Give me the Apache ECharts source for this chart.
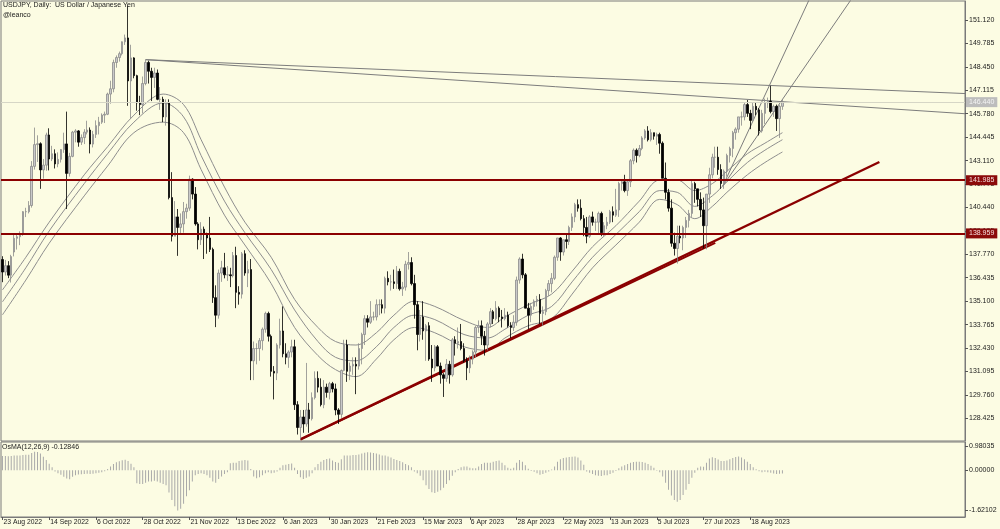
<!DOCTYPE html>
<html><head><meta charset="utf-8">
<script src="https://cdn.jsdelivr.net/npm/echarts@6/dist/echarts.min.js"></script>
<style>html,body{margin:0;padding:0;background:#fcfce3}#c{width:1000px;height:529px}</style>
</head><body><div id="c"></div>
<script>
// ---------- data ----------
const tickDates = ['23 Aug 2022','14 Sep 2022','6 Oct 2022','28 Oct 2022','21 Nov 2022','13 Dec 2022','6 Jan 2023','30 Jan 2023','21 Feb 2023','15 Mar 2023','6 Apr 2023','28 Apr 2023','22 May 2023','13 Jun 2023','5 Jul 2023','27 Jul 2023','18 Aug 2023'];
const priceTicks = [128.425,129.760,131.095,132.430,133.765,135.100,136.435,137.770,139.105,140.440,141.775,143.110,144.445,145.780,147.115,148.450,149.785,151.120];
const osmaTicks = [0.98035, 0, -1.62102];
const skipDays = ['2022-12-26','2023-01-02'];
// [open, high, low, close]
const candles = [
[137.47,137.66,136.18,136.76],[136.76,137.45,136.56,137.12],[137.12,137.38,136.41,136.58],[136.58,137.74,136.16,137.64],
[137.90,138.90,137.65,138.68],[138.68,138.98,138.04,138.77],[138.77,139.08,138.29,138.96],[138.96,140.23,138.82,140.20],
[140.20,140.42,139.89,140.20],[140.20,140.80,140.10,140.55],[140.55,143.08,140.43,142.78],[142.78,144.99,142.60,144.02],
[144.02,144.55,143.03,144.07],[144.07,144.15,141.50,142.58],[142.58,143.20,142.08,142.85],[142.85,144.70,142.53,144.57],
[144.57,144.95,142.55,143.20],[143.20,143.95,143.08,143.50],[143.50,143.75,142.66,142.92],[142.92,143.58,142.73,143.18],
[143.18,143.77,143.00,143.74],[143.74,144.70,143.55,144.06],[144.06,145.90,140.35,142.38],[142.38,143.55,142.20,143.35],
[143.35,144.80,143.30,144.73],[144.73,144.90,144.15,144.80],[144.80,144.85,143.90,144.16],[144.16,144.60,144.00,144.42],
[144.42,144.90,144.05,144.73],[144.73,145.38,144.60,144.85],[144.85,145.00,143.52,144.05],[144.05,144.80,143.86,144.60],
[144.60,145.40,144.40,145.10],[145.10,145.60,144.60,145.30],[145.30,145.80,145.20,145.70],[145.70,145.90,145.25,145.75],
[145.75,146.98,145.70,146.90],[146.90,147.66,146.35,147.20],[147.20,148.86,147.00,148.70],[148.70,149.10,148.40,148.98],
[148.98,149.32,148.75,149.20],[149.20,149.90,149.10,149.88],[149.88,150.29,149.70,150.10],[150.10,151.94,146.23,147.65],
[147.65,149.71,145.50,148.96],[148.96,149.00,147.80,147.95],[147.95,148.00,145.95,146.40],[146.40,146.80,145.70,146.30],
[146.30,147.90,145.80,147.50],[147.50,148.86,147.40,148.70],[148.70,148.80,147.50,148.20],[148.20,148.40,146.50,147.85],
[147.85,148.40,147.25,148.10],[148.10,148.30,146.55,146.60],[146.60,147.30,146.00,146.60],[146.60,146.75,145.30,145.60],
[145.60,146.60,145.10,146.40],[146.40,146.60,140.90,141.00],[141.00,142.45,138.50,138.80],[138.80,140.80,138.80,139.90],
[139.90,140.35,137.68,139.30],[139.30,140.10,138.90,139.50],[139.50,140.75,139.00,140.20],[140.20,140.65,139.80,140.40],
[140.40,142.25,140.25,142.05],[142.05,142.10,140.90,141.20],[141.20,141.60,139.40,139.50],[139.50,139.60,138.05,138.60],
[138.60,139.60,138.30,139.20],[139.20,139.35,137.50,138.90],[138.90,139.00,137.80,138.70],[138.70,139.90,137.90,138.05],
[138.05,138.15,135.00,135.30],[135.30,136.00,133.62,134.30],[134.30,136.90,134.10,136.70],[136.70,137.40,136.20,137.00],
[137.00,137.85,136.40,136.60],[136.60,137.10,136.25,136.60],[136.60,137.00,135.90,136.55],[136.55,137.90,136.45,137.70],
[137.70,138.20,134.70,135.60],[135.60,135.95,134.90,135.50],[135.50,137.90,135.25,137.80],[137.80,138.00,136.55,136.70],
[136.70,137.40,135.90,136.90],[136.90,137.50,130.60,131.70],[131.70,132.80,130.60,132.40],[132.40,132.70,131.50,132.40],
[132.40,133.00,131.70,132.85],[132.85,133.60,132.30,133.50],[133.50,134.50,133.30,134.40],[134.40,134.50,132.80,133.10],
[133.10,133.20,130.80,131.10],[131.10,131.40,129.50,131.00],[131.00,132.70,130.60,132.60],[132.60,134.10,132.40,133.40],
[133.40,134.80,131.90,132.10],[132.10,132.70,131.50,131.90],[131.90,132.30,131.30,132.20],[132.20,132.90,131.90,132.50],
[132.50,132.90,128.90,129.20],[129.20,129.40,127.50,127.90],[127.90,128.90,127.22,128.50],[128.50,128.90,127.60,128.10],
[128.10,131.58,127.95,128.90],[128.90,129.30,127.60,128.40],[128.40,129.90,128.30,129.60],[129.60,131.10,129.50,130.70],
[130.70,131.10,129.90,130.20],[130.20,130.70,129.10,129.20],[129.20,130.60,129.00,130.20],[130.20,130.40,129.60,129.90],
[129.90,130.50,129.50,130.40],[130.40,130.50,129.90,130.10],[130.10,130.40,128.60,128.90],[128.90,129.00,128.10,128.65],
[128.65,131.20,128.45,131.15],[131.15,132.90,131.10,132.60],[132.60,132.90,130.50,131.10],[131.10,131.60,130.60,131.40],
[131.40,131.90,130.90,131.50],[131.50,131.90,129.80,131.40],[131.40,132.70,131.20,132.40],[132.40,133.30,131.50,133.20],
[133.20,134.30,132.60,134.10],[134.10,134.30,133.60,133.90],[133.90,135.10,133.80,134.20],[134.20,134.50,134.00,134.20],
[134.20,135.20,134.00,134.90],[134.90,135.20,134.30,134.90],[134.90,135.20,134.40,134.70],[134.70,136.50,134.40,136.40],
[136.40,136.80,136.00,136.20],[136.20,136.60,135.70,136.20],[136.20,136.90,135.80,136.10],[136.10,137.10,135.80,136.80],
[136.80,136.95,135.70,135.80],[135.80,136.20,135.40,135.90],[135.90,137.40,135.70,137.20],[137.20,137.90,136.90,137.30],
[137.30,137.60,136.00,136.10],[136.10,136.60,134.10,134.90],[134.90,135.10,132.30,133.20],[133.20,134.60,132.80,134.20],
[134.20,135.10,132.90,133.40],[133.40,133.80,131.70,133.70],[133.70,133.90,131.70,131.80],[131.80,132.60,130.50,131.30],
[131.30,132.60,131.10,132.50],[132.50,132.60,131.40,131.40],[131.40,131.60,130.40,130.90],[130.90,131.00,129.64,130.70],
[130.70,131.80,130.50,131.50],[131.50,131.70,130.40,130.90],[130.90,133.00,130.80,132.90],[132.90,133.10,132.00,132.70],
[132.70,133.60,132.40,132.80],[132.80,133.80,132.30,132.40],[132.40,132.70,131.60,131.70],[131.70,131.90,130.60,131.30],
[131.30,132.00,131.00,131.80],[131.80,132.30,131.50,132.20],[132.20,133.70,131.90,133.60],[133.60,134.00,133.30,133.70],
[133.70,134.00,132.60,133.10],[133.10,133.40,132.00,132.60],[132.60,133.90,132.30,133.80],[133.80,134.70,133.60,134.50],
[134.50,134.60,133.80,134.10],[134.10,135.10,134.00,134.70],[134.70,134.80,133.90,134.20],[134.20,134.60,133.60,134.10],
[134.10,134.70,134.00,134.30],[134.30,134.50,133.60,133.70],[133.70,133.90,133.00,133.60],[133.60,134.30,133.40,133.90],
[133.90,136.50,133.70,136.30],[136.30,137.60,136.10,137.50],[137.50,137.80,136.40,136.60],[136.60,136.70,134.70,134.70],
[134.70,135.00,133.50,134.30],[134.30,135.00,133.90,134.80],[134.80,135.20,134.60,135.10],[135.10,135.40,134.80,135.20],
[135.20,135.50,133.80,134.40],[134.40,134.80,133.70,134.50],[134.50,135.80,134.30,135.70],[135.70,136.30,135.40,136.10],
[136.10,136.70,135.60,136.40],[136.40,137.70,136.30,137.60],[137.60,138.70,137.40,138.70],[138.70,138.75,137.40,137.90],
[137.90,138.60,137.70,138.60],[138.60,138.90,138.10,138.50],[138.50,139.40,138.30,139.30],[139.30,140.10,139.10,139.90],
[139.90,140.70,139.60,140.60],[140.60,140.90,140.20,140.40],[140.40,140.90,139.70,139.80],[139.80,140.00,138.80,139.30],
[139.30,139.90,138.40,138.80],[138.80,140.00,138.70,139.90],[139.90,140.20,139.40,139.60],[139.60,139.80,139.10,139.60],
[139.60,140.20,138.90,140.10],[140.10,140.20,138.80,139.00],[139.00,139.60,138.80,139.40],[139.40,139.90,139.20,139.60],
[139.60,140.30,139.50,140.20],[140.20,140.50,139.60,140.00],[140.00,141.50,139.90,140.30],[140.30,141.90,139.90,141.80],
[141.80,142.00,141.40,141.90],[141.90,142.30,141.30,141.40],[141.40,142.00,141.10,141.90],[141.90,143.20,141.60,143.10],
[143.10,143.80,142.90,143.70],[143.70,143.80,143.00,143.40],[143.40,144.00,143.30,143.80],[143.80,144.50,143.70,144.40],
[144.40,144.90,144.30,144.80],[144.80,145.07,144.20,144.30],[144.30,144.90,144.20,144.70],[144.70,144.70,144.30,144.50],
[144.50,144.70,144.00,144.60],[144.60,144.70,143.50,144.10],[144.10,144.20,142.10,142.10],[142.10,143.00,140.90,141.30],
[141.30,141.50,140.20,140.40],[140.40,140.90,138.20,138.40],[138.40,139.00,137.70,138.10],[138.10,139.40,137.24,138.80],
[138.80,139.40,138.40,138.70],[138.70,139.40,138.00,139.30],[139.30,139.90,138.70,139.70],[139.70,140.30,139.30,140.10],
[140.10,142.00,139.90,141.80],[141.80,141.90,140.70,141.50],[141.50,141.50,140.50,140.90],[140.90,141.30,139.90,140.30],
[140.30,141.00,138.10,139.40],[139.40,141.20,138.05,141.20],[141.20,142.70,140.70,142.30],[142.30,143.50,142.10,143.30],
[143.30,143.90,142.70,143.30],[143.30,143.90,142.30,142.60],[142.60,142.90,141.50,141.80],[141.80,142.60,141.50,142.50],
[142.50,143.50,142.20,143.40],[143.40,143.90,143.00,143.80],[143.80,144.80,143.30,144.70],[144.70,145.00,144.30,144.90],
[144.90,145.60,144.70,145.60],[145.60,145.90,145.10,145.60],[145.60,146.40,145.40,146.30],[146.30,146.56,145.60,145.80],
[145.80,146.00,144.90,145.40],[145.40,146.40,145.30,146.20],[146.20,146.40,145.70,146.00],[146.00,146.10,144.54,144.80],
[144.80,146.00,144.70,145.80],[145.80,146.64,145.20,146.40],[146.40,146.70,146.10,146.50],[146.50,147.37,145.80,145.90],
[145.90,146.30,145.60,146.20],[146.20,146.30,144.80,145.50],[145.50,146.30,144.40,146.20],[146.20,146.60,146.00,146.44]
];
const osma = [
.58,.58,.57,.58,.6,.6,.6,.62,.63,.63,.7,.75,.74,.68,.55,.42,.26,.12,
-.05,-.12,-.18,-.26,-.33,-.36,-.26,-.2,-.17,-.16,-.15,-.14,-.15,-.14,-.12,-.1,-.08,-.04,
.05,.15,.25,.32,.37,.41,.43,.38,.26,.12,
-.52,-.55,-.55,-.5,-.45,-.45,-.42,-.45,-.5,-.55,-.6,-.9,-1.2,-1.45,-1.62,-1.55,-1.35,-1.05,-.8,-.45,-.2,-.15,-.12,-.15,-.2,-.3,-.45,-.5,-.35,-.25,-.15,-.08,
.28,.3,.3,.38,.4,.42,.4,.05,
-.25,-.32,-.28,-.2,-.12,-.08,-.12,-.1,-.05,
.1,.2,.22,.25,.27,.1,-.15,-.28,-.35,-.3,-.25,-.12,
.12,.25,.35,.42,.46,.48,.4,.33,.3,.45,.6,.6,.6,.62,.62,.64,.68,.71,.73,.72,.7,.68,.64,.6,.6,.56,.52,.46,.42,.38,.32,.25,.2,.12,
-.05,-.12,-.22,-.4,-.6,-.75,-.88,-.92,-.86,-.8,-.7,-.55,-.4,-.22,-.08,
.05,.12,.15,.15,.1,.08,.08,.15,.25,.3,.3,.3,.35,.38,.4,
.3,.2,.1,.06,.1,.3,.42,.35,.2,.06,
-.03,-.06,-.12,-.18,-.15,-.1,-.05,.03,
.15,.35,.45,.5,.52,.54,.55,.56,.52,.4,.22,
-.05,-.1,-.15,-.2,-.22,-.23,-.2,-.2,-.15,-.1,-.03,
.08,.15,.2,.25,.3,.33,.35,.35,.33,.3,.25,.18,.1,
-.02,-.08,-.25,-.5,-.78,-1.02,-1.2,-1.27,-1.2,-1.0,-.78,-.55,-.3,-.1,
.1,.15,.14,.3,.48,.53,.5,.44,.38,.38,.4,.45,.5,.54,.56,.52,.45,.35,.25,.12,.04,
-.04,-.08,-.06,-.08,-.1,-.13,-.15,-.14,-.12846
];
// moving-average lines (bar index, price)
const maIdx   = [0,8,16,28,36,45,55,62,68,76,83,92,100,108,114,121,128,134,141,148,158,166,172,180,188,195,202,210,218,225,231,237,243,248,255,261,267];
const maUpper = [135.74,137.6,139.6,142.3,143.9,145.7,146.9,146.3,144.3,141.6,139.6,137.6,135.2,133.6,132.8,132.6,133.3,134.3,135.1,134.8,134.0,133.6,134.2,134.9,135.5,136.8,138.2,139.4,140.8,142.0,142.0,141.4,141.8,142.5,143.5,144.1,144.7];
const maMid   = [135.06,137.0,139.1,141.8,143.5,145.3,146.4,145.6,143.4,140.8,139.0,136.9,134.6,132.8,131.9,131.7,132.5,133.6,134.3,134.05,133.2,133.0,133.5,134.3,134.8,136.2,137.6,138.9,140.2,141.4,141.3,140.5,141.1,141.9,143.0,143.7,144.3];
const maLower = [134.32,136.3,138.4,141.1,142.8,144.7,145.3,144.7,142.6,140.0,138.3,136.1,133.6,132.0,131.2,130.8,131.8,132.9,133.6,133.3,132.5,132.3,133.0,133.7,134.1,135.5,137.0,138.3,139.6,140.9,140.6,139.8,140.5,141.3,142.3,143.0,143.6];
const levels = [141.985, 138.959];
const lastPrice = 146.440;
// trend lines: [barIndex1, price1, barIndex2, price2]
const grayLines = [[49,148.86,329.5,146.93],[49,148.86,329.5,145.78],[246.6,141.66,280,153.66],[246.6,141.66,295,153.37]];
const redLines  = [[102,127.22,300.2,143.03],[102,127.22,244,138.42]];

// ---------- build ----------
const MON = ['Jan','Feb','Mar','Apr','May','Jun','Jul','Aug','Sep','Oct','Nov','Dec'];
const dates = [];
let d = new Date(Date.UTC(2022,7,23));
while (dates.length < candles.length) {
  const wd = d.getUTCDay(), iso = d.toISOString().slice(0,10);
  if (wd !== 0 && wd !== 6 && skipDays.indexOf(iso) < 0) dates.push(d.getUTCDate()+' '+MON[d.getUTCMonth()]+' '+d.getUTCFullYear());
  d = new Date(d.getTime()+86400000);
}
const TOTAL = 330;
const cats = dates.slice();
for (let i = dates.length; i < TOTAL; i++) cats.push('+' + i);
const tickSet = new Set(tickDates);
const FONT = 'Liberation Sans';
const TXT = '#1a1a1a';

const lineSeries = [];
grayLines.forEach(l => lineSeries.push({type:'line', xAxisIndex:2, yAxisIndex:0, data:[[l[0],l[1]],[l[2],l[3]]], showSymbol:false, silent:true, lineStyle:{color:'#7c7c7c', width:1}, z:4}));
redLines.forEach((l,i) => lineSeries.push({type:'line', xAxisIndex:2, yAxisIndex:0, data:[[l[0],l[1]],[l[2],l[3]]], showSymbol:false, silent:true, lineStyle:{color:'#8b0000', width: i===0 ? 2.4 : 2}, z:4}));
[maUpper, maMid, maLower].forEach(arr => lineSeries.push({type:'line', xAxisIndex:2, yAxisIndex:0, data: maIdx.map((x,i)=>[x, arr[i]]), smooth:0.35, showSymbol:false, silent:true, lineStyle:{color:'#8e8e8e', width:1}, z:3}));

const chart = echarts.init(document.getElementById('c'), null, {renderer:'canvas'});
chart.setOption({
  animation:false,
  backgroundColor:'#fcfce3',
  textStyle:{fontFamily:FONT},
  title:[
    {text:'USDJPY, Daily:  US Dollar / Japanese Yen', left:3, top:2, padding:0, textStyle:{fontSize:7, fontWeight:'normal', color:TXT, fontFamily:FONT}},
    {text:'@leanco', left:3, top:12, padding:0, textStyle:{fontSize:7, fontWeight:'normal', color:TXT, fontFamily:FONT}},
    {text:'OsMA(12,26,9) -0.12846', left:2, top:444, padding:0, textStyle:{fontSize:7, fontWeight:'normal', color:TXT, fontFamily:FONT}}
  ],
  grid:[
    {left:1, top:1, width:964, height:440, show:true, borderColor:'#7a7a7a', borderWidth:1, backgroundColor:'transparent'},
    {left:1, top:442, width:964, height:75, show:true, borderColor:'#7a7a7a', borderWidth:1, backgroundColor:'transparent'}
  ],
  xAxis:[
    {type:'category', gridIndex:0, data:cats, boundaryGap:true, show:false, axisLine:{onZero:false}},
    {type:'category', gridIndex:1, data:cats, boundaryGap:true, position:'bottom',
      axisLine:{show:true, onZero:false, lineStyle:{color:'#7a7a7a'}},
      axisTick:{show:true, alignWithLabel:true, length:3, interval:(i,v)=>tickSet.has(v), lineStyle:{color:'#555'}},
      axisLabel:{show:true, interval:(i,v)=>tickSet.has(v), align:'left', margin:2, fontSize:6.8, color:TXT, fontFamily:FONT, padding:[0,0,0,1]},
      splitLine:{show:false}},
    {type:'value', gridIndex:0, min:-0.5, max:TOTAL-0.5, show:false, axisLine:{onZero:false}}
  ],
  yAxis:[
    {type:'value', gridIndex:0, position:'right', min:127.131, max:152.203, scale:true,
      axisLine:{show:true, onZero:false, lineStyle:{color:'#7a7a7a'}},
      axisTick:{show:true, length:3, customValues:priceTicks, lineStyle:{color:'#555'}},
      axisLabel:{show:true, customValues:priceTicks, formatter:v=>v.toFixed(3), margin:4, fontSize:7, color:TXT, fontFamily:FONT},
      splitLine:{show:false}},
    {type:'value', gridIndex:1, position:'right', min:-1.883, max:1.1416,
      axisLine:{show:true, onZero:false, lineStyle:{color:'#7a7a7a'}},
      axisTick:{show:true, length:3, customValues:osmaTicks, lineStyle:{color:'#555'}},
      axisLabel:{show:true, customValues:osmaTicks, formatter:v=>v.toFixed(5), margin:4, fontSize:7, color:TXT, fontFamily:FONT},
      splitLine:{show:false}}
  ],
  series:[
    {type:'candlestick', xAxisIndex:0, yAxisIndex:0, data:candles.map(c=>[c[0],c[3],c[2],c[1]]),
      barWidth:2,
      itemStyle:{color:'#c9c9c9', color0:'#000000', borderColor:'#8a8a8a', borderColor0:'#000000', borderWidth:0.8},
      z:5,
      markLine:{silent:true, symbol:['none','none'], z:6,
        data:[
          {yAxis:lastPrice, lineStyle:{color:'#d6d6c6', width:1, type:'solid'},
            label:{show:true, position:'end', distance:1, formatter:lastPrice.toFixed(3), backgroundColor:'#bdbdbd', color:'#f4f4f4', padding:[2,3,1,3], fontSize:7, fontFamily:FONT}},
          ...levels.map(v=>({yAxis:v, lineStyle:{color:'#8b0000', width:2, type:'solid'},
            label:{show:true, position:'end', distance:1, formatter:v.toFixed(3), backgroundColor:'#8b0a0a', color:'#f6dede', padding:[2,3,1,3], fontSize:7, fontFamily:FONT}}))
        ]}
    },
    ...lineSeries,
    {type:'bar', xAxisIndex:1, yAxisIndex:1, data:osma, barWidth:1, itemStyle:{color:'#a9a9a9'}, silent:true}
  ]
});
</script></body></html>
